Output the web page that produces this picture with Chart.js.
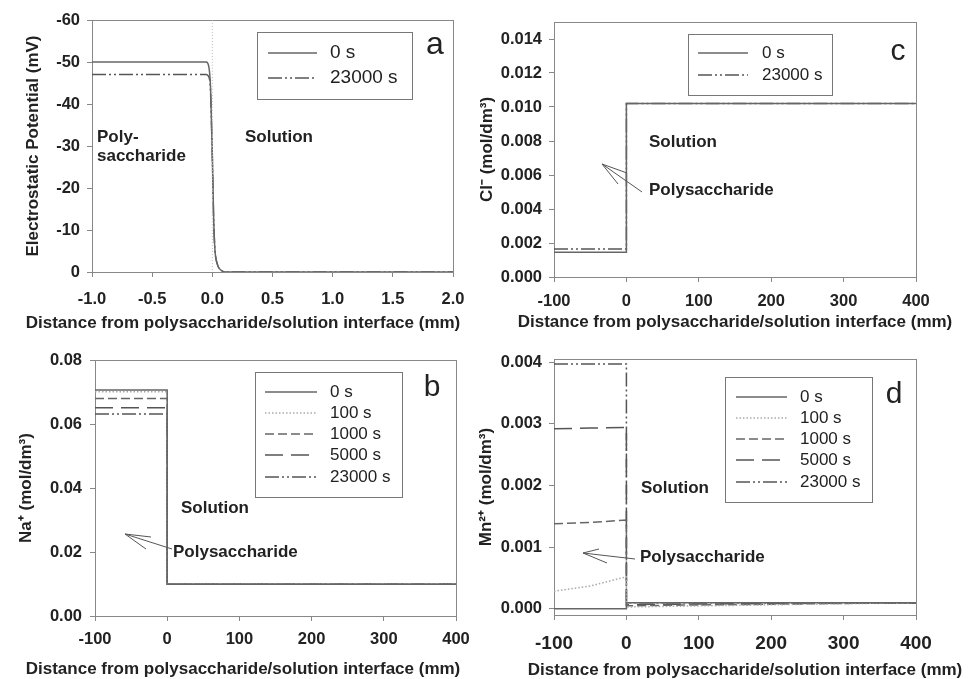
<!DOCTYPE html>
<html>
<head>
<meta charset="utf-8">
<script src="https://cdn.jsdelivr.net/npm/chart.js@4.4.1/dist/chart.umd.min.js"></script>
<style>
body { margin:0; background:#fff; width:969px; height:679px; position:relative; overflow:hidden; }
canvas { position:absolute; }
</style>
</head>
<body>
<canvas id="panelA" width="484" height="340" style="left:0;top:0"></canvas>
<canvas id="panelC" width="493" height="340" style="left:476px;top:0"></canvas>
<canvas id="panelB" width="484" height="339" style="left:0;top:340px"></canvas>
<canvas id="panelD" width="493" height="339" style="left:476px;top:340px"></canvas>
<script>
// panel a: electrostatic potential (mV) vs distance (mm)
var potX = [-1, -0.05, -0.03, -0.015, 0, 0.01, 0.02, 0.04, 0.07, 0.12, 2];
var pot0s = [-50, -50, -49, -44, -28, -14, -6, -2, -0.5, 0, 0];
var pot23000s = [-47, -47, -46.5, -43, -27, -13.5, -6, -2, -0.5, 0, 0];
var potXTicks = [-1, -0.5, 0, 0.5, 1, 1.5, 2];
var potXLabels = ['-1.0', '-0.5', '0.0', '0.5', '1.0', '1.5', '2.0'];
var potYTicks = [-60, -50, -40, -30, -20, -10, 0];
var potYLabels = ['-60', '-50', '-40', '-30', '-20', '-10', '0'];

// panel c: Cl- (mol/dm3)
var clX = [-100, 0, 0, 400];
var cl0s = [0.00145, 0.00145, 0.0102, 0.0102];
var cl23000s = [0.00164, 0.00164, 0.0102, 0.0102];
var clYTicks = [0, 0.002, 0.004, 0.006, 0.008, 0.010, 0.012, 0.014];
var clYLabels = ['0.000', '0.002', '0.004', '0.006', '0.008', '0.010', '0.012', '0.014'];

// panel b: Na+ (mol/dm3)
var naX = [-100, 0, 0, 400];
var na0s = [0.0706, 0.0706, 0.0099, 0.0099];
var na100s = [0.0701, 0.0701, 0.0099, 0.0099];
var na1000s = [0.068, 0.068, 0.0099, 0.0099];
var na5000s = [0.0651, 0.0651, 0.0099, 0.0099];
var na23000s = [0.0631, 0.0631, 0.0099, 0.0099];
var naYTicks = [0, 0.02, 0.04, 0.06, 0.08];
var naYLabels = ['0.00', '0.02', '0.04', '0.06', '0.08'];

// panel d: Mn2+ (mol/dm3)
var mnX = [-100, -50, 0, 0, 400];
var mn0s = [0, 0, 0, 0.0001, 0.0001];
var mn100s = [0.000285, 0.00037, 0.00052, 0.00003, 0.0001];
var mn1000s = [0.00138, 0.0014, 0.00144, 0.00005, 0.0001];
var mn5000s = [0.00292, 0.00293, 0.00294, 0.00007, 0.0001];
var mn23000s = [0.00397, 0.00397, 0.00397, 0.0001, 0.00009];
var mnYTicks = [0, 0.001, 0.002, 0.003, 0.004];
var mnYLabels = ['0.000', '0.001', '0.002', '0.003', '0.004'];

var distTicks = [-100, 0, 100, 200, 300, 400];
var distLabels = ['-100', '0', '100', '200', '300', '400'];

var FONT = '"Liberation Sans", Arial, sans-serif';
var INK = '#222';
var lineStyles = {
    '0 s': {color: '#666', dash: []},
    '100 s': {color: '#aaa', dash: [1.5, 2]},
    '1000 s': {color: '#666', dash: [9, 4]},
    '5000 s': {color: '#555', dash: [18, 8]},
    '23000 s': {color: '#555', dash: [14, 3, 2, 3, 2, 3]}
};

function drawArrow(ctx, a) {
    ctx.save();
    ctx.strokeStyle = '#555';
    ctx.lineWidth = 1;
    ctx.beginPath();
    ctx.moveTo(a.from[0], a.from[1]);
    ctx.lineTo(a.tip[0], a.tip[1]);
    for (var i = 0; i < a.barbs.length; ++i) {
        ctx.moveTo(a.tip[0], a.tip[1]);
        ctx.lineTo(a.barbs[i][0], a.barbs[i][1]);
    }
    ctx.stroke();
    ctx.restore();
}

function makePanel(id, opts) {
    var datasets = opts.series.map(function(s) {
        var st = lineStyles[s.label] || {};
        return {
            label: s.label,
            data: s.ys.map(function(y, i) { return {x: s.xs[i], y: y}; }),
            borderColor: s.color || st.color,
            borderDash: s.dash || st.dash,
            borderWidth: s.width || 1.5,
            showLine: true,
            pointRadius: 0,
            fill: false,
            cubicInterpolationMode: opts.smooth ? 'monotone' : 'default',
            inLegend: s.inLegend !== false
        };
    });

    var decor = {
        id: 'decor',
        beforeDatasetsDraw: function(chart) {
            var ca = chart.chartArea, ctx = chart.ctx;
            ctx.save();
            ctx.strokeStyle = '#888';
            ctx.lineWidth = 1;
            ctx.strokeRect(Math.round(ca.left) + 0.5, Math.round(ca.top) + 0.5,
                Math.round(ca.right - ca.left), Math.round(ca.bottom - ca.top));
            // x title is wider than the plot, so it is drawn here rather than by the scale
            ctx.fillStyle = INK;
            ctx.font = 'bold 17px ' + FONT;
            ctx.textAlign = 'center';
            ctx.textBaseline = 'middle';
            ctx.fillText(opts.xTitle.text, opts.xTitle.x, opts.xTitle.y);
            ctx.restore();
        },
        afterDatasetsDraw: function(chart) {
            var ctx = chart.ctx, lg = opts.legend;
            ctx.save();
            // legend box inside the plot
            ctx.fillStyle = '#fff';
            ctx.fillRect(lg.box[0], lg.box[1], lg.box[2] - lg.box[0], lg.box[3] - lg.box[1]);
            ctx.strokeStyle = '#777';
            ctx.lineWidth = 1;
            ctx.strokeRect(lg.box[0] + 0.5, lg.box[1] + 0.5, lg.box[2] - lg.box[0], lg.box[3] - lg.box[1]);
            var row = 0;
            chart.data.datasets.forEach(function(ds) {
                if (!ds.inLegend) return;
                var y = lg.rows[row++];
                ctx.strokeStyle = ds.borderColor;
                ctx.lineWidth = ds.borderWidth;
                ctx.setLineDash(ds.borderDash || []);
                ctx.beginPath();
                ctx.moveTo(lg.sample[0], y);
                ctx.lineTo(lg.sample[1], y);
                ctx.stroke();
                ctx.setLineDash([]);
                ctx.fillStyle = INK;
                ctx.font = lg.fontSize + 'px ' + FONT;
                ctx.textBaseline = 'middle';
                ctx.textAlign = 'left';
                ctx.fillText(ds.label, lg.textX, y);
            });
            // panel letter
            ctx.fillStyle = INK;
            ctx.font = opts.letter.size + 'px ' + FONT;
            ctx.textAlign = 'center';
            ctx.textBaseline = 'middle';
            ctx.fillText(opts.letter.text, opts.letter.x, opts.letter.y);
            // notes
            ctx.font = 'bold 17px ' + FONT;
            ctx.textAlign = 'left';
            opts.notes.forEach(function(n) { ctx.fillText(n.text, n.x, n.y); });
            ctx.restore();
            if (opts.arrow) drawArrow(ctx, opts.arrow);
        }
    };

    function axis(o) {
        return {
            type: 'linear',
            min: o.min,
            max: o.max,
            reverse: !!o.reverse,
            afterBuildTicks: function(sc) {
                sc.ticks = o.ticks.map(function(v) { return {value: v}; });
            },
            afterFit: function(sc) {
                if (o.width) sc.width = o.width;
                if (o.height) sc.height = o.height;
            },
            ticks: {
                callback: function(v, i) { return o.labels[i]; },
                font: {family: FONT, size: o.tickSize || 16.5, weight: 'bold'},
                color: INK,
                padding: o.tickPad,
                maxRotation: 0,
                autoSkip: false
            },
            grid: {display: true, drawOnChartArea: false, drawTicks: true, tickLength: 5, color: '#888'},
            border: {display: false},
            title: {
                display: !!o.title,
                text: o.title,
                font: {family: FONT, size: 17, weight: 'bold'},
                color: INK,
                padding: o.titlePad
            }
        };
    }

    return new Chart(document.getElementById(id), {
        type: 'scatter',
        data: {datasets: datasets},
        options: {
            responsive: false,
            animation: false,
            layout: {padding: opts.padding},
            plugins: {legend: {display: false}, tooltip: {enabled: false}},
            scales: {x: axis(opts.x), y: axis(opts.y)}
        },
        plugins: [decor]
    });
}

var distTitle = 'Distance from polysaccharide/solution interface (mm)';

makePanel('panelA', {
    smooth: true,
    padding: {left: 0, top: 20, right: 31, bottom: 0},
    series: [
        {label: '', xs: [0, 0], ys: [-60, 0], color: '#bbb', dash: [1, 2], width: 1, inLegend: false},
        {label: '0 s', xs: potX, ys: pot0s},
        {label: '23000 s', xs: potX, ys: pot23000s}
    ],
    x: {min: -1, max: 2, ticks: potXTicks, labels: potXLabels, height: 68, tickPad: 13},
    y: {min: -60, max: 0, reverse: true, ticks: potYTicks, labels: potYLabels, width: 92, tickPad: 7,
        title: 'Electrostatic Potential (mV)', titlePad: {top: 23, bottom: 0}},
    xTitle: {text: distTitle, x: 243, y: 323},
    legend: {box: [257, 32, 412, 99], rows: [53, 78], sample: [268, 317], textX: 330, fontSize: 19},
    letter: {text: 'a', x: 435, y: 45, size: 32},
    notes: [{text: 'Poly-', x: 97, y: 137}, {text: 'saccharide', x: 97, y: 156}, {text: 'Solution', x: 245, y: 137}]
});

makePanel('panelC', {
    padding: {left: 0, top: 22, right: 53, bottom: 0},
    series: [
        {label: '0 s', xs: clX, ys: cl0s},
        {label: '23000 s', xs: clX, ys: cl23000s}
    ],
    x: {min: -100, max: 400, ticks: distTicks, labels: distLabels, height: 63, tickPad: 10},
    y: {min: 0, max: 0.015, ticks: clYTicks, labels: clYLabels, width: 78, tickPad: 7,
        title: 'Cl\u207B (mol/dm\u00B3)', titlePad: {top: 1, bottom: 0}},
    xTitle: {text: distTitle, x: 259, y: 322},
    legend: {box: [212, 34, 356, 95], rows: [53, 75], sample: [222, 272], textX: 286, fontSize: 17},
    letter: {text: 'c', x: 422, y: 52, size: 30},
    notes: [{text: 'Solution', x: 173, y: 142}, {text: 'Polysaccharide', x: 173, y: 190}],
    arrow: {from: [166, 192], tip: [126, 164], barbs: [[151, 173], [142, 184]]}
});

makePanel('panelB', {
    padding: {left: 0, top: 20, right: 28, bottom: 0},
    series: [
        {label: '0 s', xs: naX, ys: na0s},
        {label: '100 s', xs: naX, ys: na100s},
        {label: '1000 s', xs: naX, ys: na1000s},
        {label: '5000 s', xs: naX, ys: na5000s},
        {label: '23000 s', xs: naX, ys: na23000s}
    ],
    x: {min: -100, max: 400, ticks: distTicks, labels: distLabels, height: 63, tickPad: 9},
    y: {min: 0, max: 0.08, ticks: naYTicks, labels: naYLabels, width: 95, tickPad: 8,
        title: 'Na\u207A (mol/dm\u00B3)', titlePad: {top: 16, bottom: 0}},
    xTitle: {text: distTitle, x: 243, y: 329},
    legend: {box: [255, 32, 402, 157], rows: [52, 73, 94, 115, 137], sample: [265, 317], textX: 330, fontSize: 17},
    letter: {text: 'b', x: 432, y: 48, size: 30},
    notes: [{text: 'Solution', x: 181, y: 168}, {text: 'Polysaccharide', x: 173, y: 212}],
    arrow: {from: [172, 209], tip: [125, 194], barbs: [[151, 197], [146, 209]]}
});

makePanel('panelD', {
    padding: {left: 0, top: 19, right: 53, bottom: 0},
    series: [
        {label: '0 s', xs: mnX, ys: mn0s},
        {label: '100 s', xs: mnX, ys: mn100s},
        {label: '1000 s', xs: mnX, ys: mn1000s},
        {label: '5000 s', xs: mnX, ys: mn5000s},
        {label: '23000 s', xs: mnX, ys: mn23000s}
    ],
    x: {min: -100, max: 400, ticks: distTicks, labels: distLabels, height: 64, tickPad: 12, tickSize: 19},
    y: {min: -0.0001, max: 0.00405, ticks: mnYTicks, labels: mnYLabels, width: 78, tickPad: 7,
        title: 'Mn\u00B2\u207A (mol/dm\u00B3)', titlePad: {top: 0, bottom: 0}},
    xTitle: {text: distTitle, x: 269, y: 330},
    legend: {box: [249, 37, 396, 162], rows: [57, 78, 99, 120, 142], sample: [260, 311], textX: 324, fontSize: 17},
    letter: {text: 'd', x: 418, y: 55, size: 30},
    notes: [{text: 'Solution', x: 165, y: 148}, {text: 'Polysaccharide', x: 164, y: 217}],
    arrow: {from: [159, 219], tip: [107, 213], barbs: [[123, 209], [131, 223]]}
});
</script>
</body>
</html>
